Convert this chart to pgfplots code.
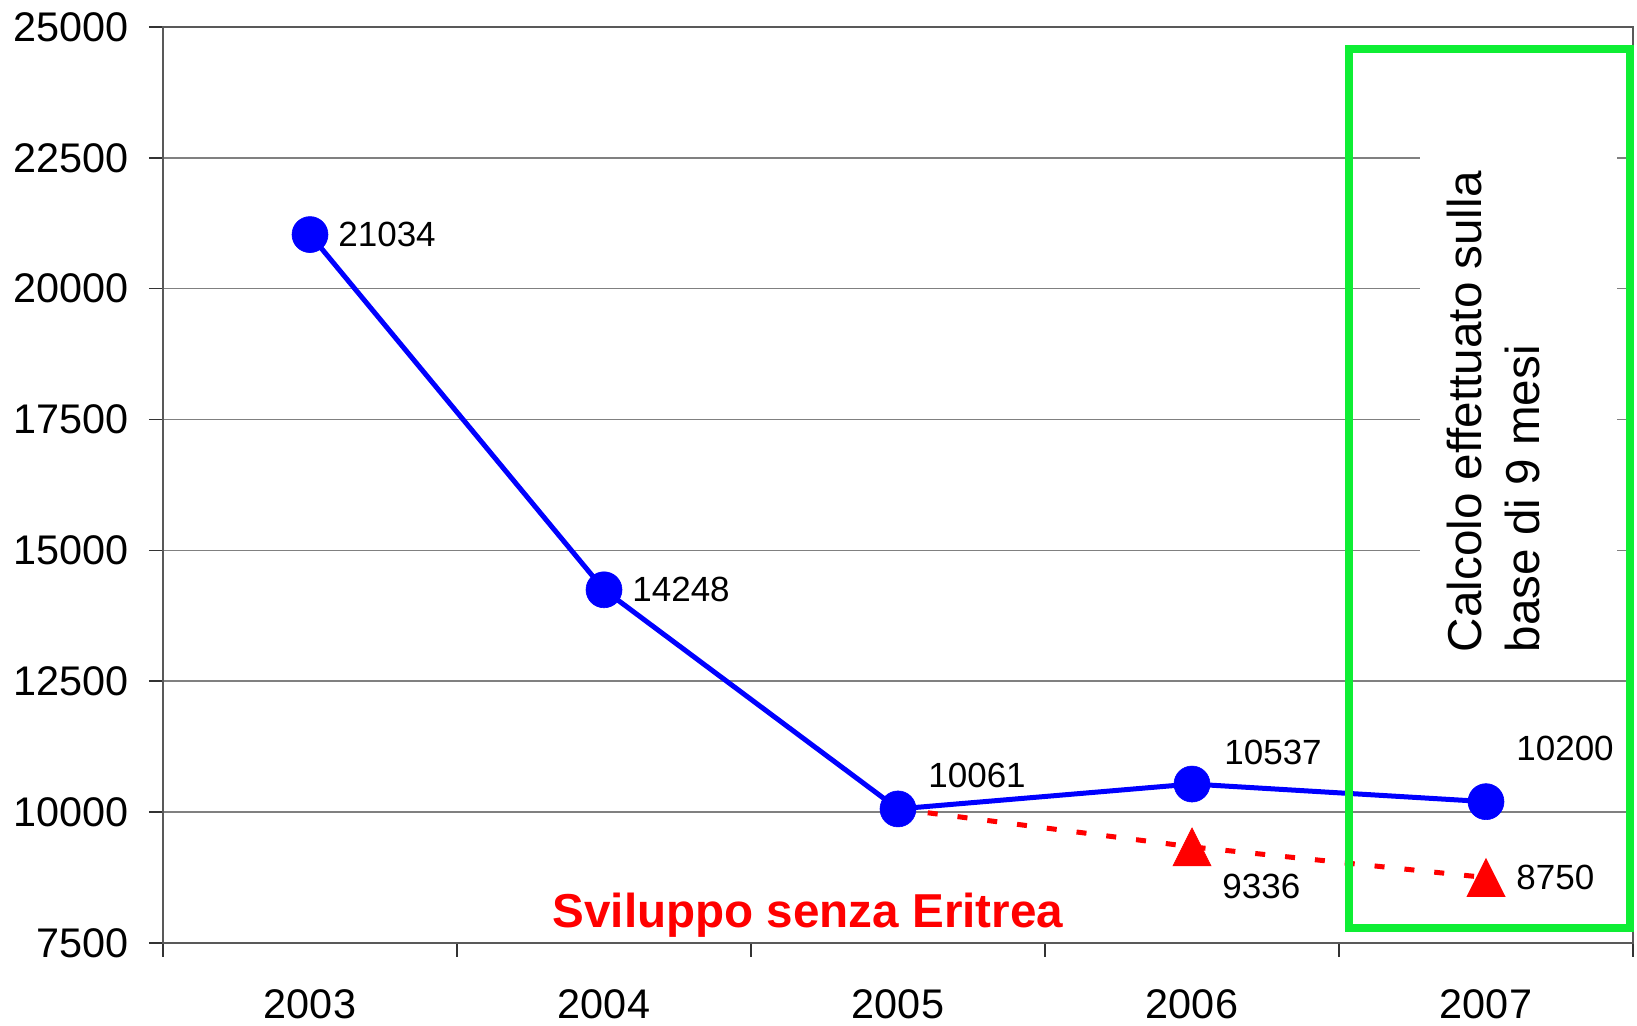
\documentclass[border=0pt]{standalone}
\usepackage{fontspec}
\setmainfont{Liberation Sans}
\usepackage{pgfplots}
\pgfplotsset{compat=1.18}
\definecolor{boxgreen}{RGB}{14,238,52}
\begin{document}
\begin{tikzpicture}
\useasboundingbox (-81.5pt,-41.5pt) rectangle (737pt,471.5pt);
\begin{axis}[
  scale only axis, width=735pt, height=458pt,
  xmin=-0.5, xmax=4.5, ymin=7500, ymax=25000,
  xtick={-0.5,0.5,1.5,2.5,3.5,4.5}, x tick label as interval,
  xticklabels={2003,2004,2005,2006,2007},
  ytick={7500,10000,12500,15000,17500,20000,22500,25000},
  scaled y ticks=false,
  tick align=outside, major tick length=7pt, tick pos=left,
  ymajorgrids, major grid style={draw=black!50, line width=0.8pt},
  axis line style={draw=black!65, line width=1pt},
  x axis line style={draw=black!90},
  tick style={draw=black!80, line width=0.8pt},
  ticklabel style={font=\fontsize{20.7}{24}\selectfont},
  yticklabel style={xshift=-6.5pt},
  xticklabel style={inner sep=0pt, yshift=-16pt},
  /pgf/number format/assume math mode=true,
  /pgf/number format/1000 sep={},
  /pgf/number format/fixed,
  clip=false,
]
\addplot[red, line width=2.5pt, dash pattern=on 5pt off 10pt] coordinates {(2,10061) (3,9336) (4,8750)};
\addplot[only marks, mark=triangle*, mark size=11pt, mark options={solid, fill=red, draw=red, line width=0.3pt, yshift=-3.16pt, yscale=1.15}] coordinates {(3,9336) (4,8750)};
\addplot[blue, line width=2.5pt, mark=*, mark size=9pt, mark options={solid, fill=blue, draw=blue, line width=0.3pt}] coordinates {(0,21034) (1,14248) (2,10061) (3,10537) (4,10200)};

\begin{scope}[every node/.style={font=\fontsize{17.5}{20}\selectfont, inner sep=0pt, anchor=west}]
\node[xshift=14pt] at (axis cs:0,21034) {21034};
\node[xshift=14pt] at (axis cs:1,14248) {14248};
\node[xshift=15pt, yshift=16.5pt] at (axis cs:2,10061) {10061};
\node[xshift=16pt, yshift=16pt] at (axis cs:3,10537) {10537};
\node[xshift=15pt, yshift=-20pt] at (axis cs:3,9336) {9336};
\node[xshift=15pt, yshift=26.5pt] at (axis cs:4,10200) {10200};
\node[xshift=15pt] at (axis cs:4,8750) {8750};
\end{scope}

\node[text=red, font=\fontsize{23.8}{28}\selectfont\bfseries, inner sep=0pt] at (axis cs:1.694,8030) {Sviluppo senza Eritrea};

\fill[white] (axis cs:3.776,12811) rectangle (axis cs:4.446,22688);
\draw[boxgreen, line width=4pt] (axis cs:3.534,7787) rectangle (axis cs:4.490,24580);
\node[rotate=90, anchor=base west, inner sep=0pt, font=\fontsize{23.8}{28}\selectfont] at (axis cs:3.985,13050) {Calcolo effettuato sulla};
\node[rotate=90, anchor=base west, inner sep=0pt, font=\fontsize{23.8}{28}\selectfont] at (axis cs:4.183,13050) {base di 9 mesi};
\end{axis}
\end{tikzpicture}
\end{document}
